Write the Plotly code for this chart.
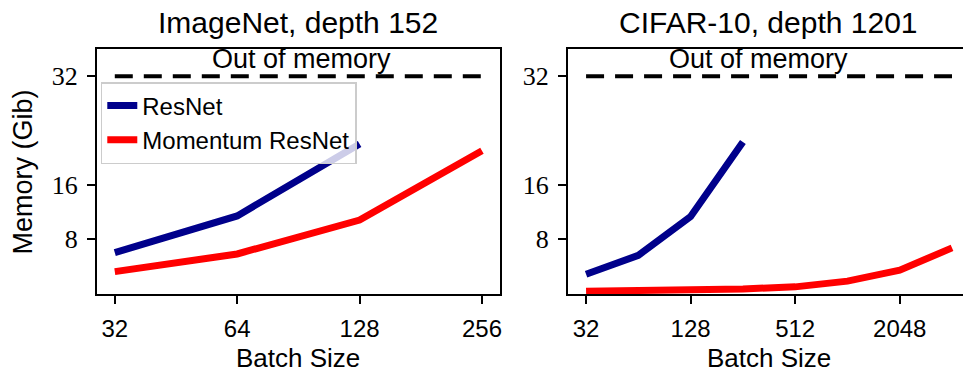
import math
import plotly.graph_objects as go

# ---- data ----
batch_imagenet = [32, 64, 128, 256]
resnet_imagenet_batch = [32, 64, 128]
resnet_imagenet_mem = [6.0, 11.4, 22.0]
momentum_imagenet_mem = [3.2, 5.8, 10.8, 21.0]

batch_cifar = [32, 64, 128, 256, 512, 1024, 2048, 4096]
resnet_cifar_batch = [32, 64, 128, 256]
resnet_cifar_mem = [2.8, 5.6, 11.3, 22.3]
momentum_cifar_mem = [0.3, 0.38, 0.46, 0.65, 0.95, 1.8, 3.4, 6.7]

oom_level = 32
y_ticks = [8, 16, 32]
x_ticks_left = [32, 64, 128, 256]
x_ticks_right = [32, 128, 512, 2048]

titles = ["ImageNet, depth 152", "CIFAR-10, depth 1201"]

BLUE = "#00008B"
RED = "#FF0000"
W, H = 965, 377
LW = 7

fig = go.Figure()

# left panel
fig.add_trace(go.Scatter(x=[batch_imagenet[0], batch_imagenet[-1]], y=[oom_level, oom_level],
                         mode="lines", line=dict(color="black", width=4, dash="18px,11px"),
                         showlegend=False, xaxis="x", yaxis="y"))
fig.add_trace(go.Scatter(x=resnet_imagenet_batch, y=resnet_imagenet_mem, mode="lines",
                         line=dict(color=BLUE, width=LW), name="ResNet", xaxis="x", yaxis="y"))
fig.add_trace(go.Scatter(x=batch_imagenet, y=momentum_imagenet_mem, mode="lines",
                         line=dict(color=RED, width=LW), name="Momentum ResNet", xaxis="x", yaxis="y"))

# right panel
fig.add_trace(go.Scatter(x=[batch_cifar[0], batch_cifar[-1]], y=[oom_level, oom_level],
                         mode="lines", line=dict(color="black", width=4, dash="18px,11px"),
                         showlegend=False, xaxis="x2", yaxis="y2"))
fig.add_trace(go.Scatter(x=resnet_cifar_batch, y=resnet_cifar_mem, mode="lines",
                         line=dict(color=BLUE, width=LW), showlegend=False, xaxis="x2", yaxis="y2"))
fig.add_trace(go.Scatter(x=batch_cifar, y=momentum_cifar_mem, mode="lines",
                         line=dict(color=RED, width=LW), showlegend=False, xaxis="x2", yaxis="y2"))

L2 = math.log10(2)
xfont = dict(family="Liberation Sans", size=24, color="black")
yfont = dict(family="Liberation Serif", size=26, color="black")

common_x = dict(type="log", showgrid=False, zeroline=False, showline=True, linecolor="black",
                linewidth=1.5, ticks="outside", ticklen=8, tickwidth=1.5, tickcolor="black",
                tickfont=xfont, ticklabelstandoff=4)
common_y = dict(range=[-0.1, 36], showgrid=False, zeroline=False, showline=True, linecolor="black",
                linewidth=1.5, ticks="outside", ticklen=8, tickwidth=1.5, tickcolor="black",
                tickfont=yfont, tickvals=y_ticks, ticktext=[str(v) for v in y_ticks],
                ticklabelstandoff=4)

ydom = [1 - 294 / H, 1 - 49 / H]
fig.update_layout(
    width=W, height=H, margin=dict(l=0, r=0, t=0, b=0),
    paper_bgcolor="white", plot_bgcolor="white",
    xaxis=dict(common_x, domain=[97 / W, 501 / W], range=[4.853 * L2, 8.147 * L2],
               tickvals=x_ticks_left, ticktext=[str(v) for v in x_ticks_left], mirror=True, anchor="y"),
    yaxis=dict(common_y, domain=ydom, mirror=True, anchor="x"),
    xaxis2=dict(common_x, domain=[569 / W, 1.0], range=[4.651 * L2, 12.21 * L2],
                tickvals=x_ticks_right, ticktext=[str(v) for v in x_ticks_right], mirror=True, anchor="y2"),
    yaxis2=dict(common_y, domain=ydom, mirror=False, anchor="x2"),
    legend=dict(x=101 / W, y=1 - 82 / H, xanchor="left", yanchor="top",
                font=dict(family="Liberation Sans", size=24, color="black"),
                bgcolor="rgba(255,255,255,0.8)", bordercolor="#cccccc", borderwidth=1.5,
                tracegroupgap=0),
    showlegend=True,
)

ann = []
tfont = dict(family="Liberation Sans", size=30, color="black")
ann.append(dict(text=titles[0], x=299 / W, y=1 - 23 / H, xref="paper", yref="paper",
                showarrow=False, font=tfont, xanchor="center", yanchor="middle"))
ann.append(dict(text=titles[1], x=770 / W, y=1 - 23 / H, xref="paper", yref="paper",
                showarrow=False, font=tfont, xanchor="center", yanchor="middle"))
lfont = dict(family="Liberation Sans", size=26, color="black")
ann.append(dict(text="Batch Size", x=299 / W, y=1 - 358 / H, xref="paper", yref="paper",
                showarrow=False, font=lfont, xanchor="center", yanchor="middle"))
ann.append(dict(text="Batch Size", x=771 / W, y=1 - 358 / H, xref="paper", yref="paper",
                showarrow=False, font=lfont, xanchor="center", yanchor="middle"))
ann.append(dict(text="Memory (Gib)", x=24 / W, y=1 - 171.5 / H, xref="paper", yref="paper",
                showarrow=False, font=dict(lfont, size=27), textangle=-90, xanchor="center", yanchor="middle"))
ofont = dict(family="Liberation Sans", size=27, color="black")
ann.append(dict(text="Out of memory", x=302 / W, y=oom_level, xref="paper", yref="y",
                showarrow=False, font=ofont, xanchor="center", yanchor="bottom", yshift=0))
ann.append(dict(text="Out of memory", x=760 / W, y=oom_level, xref="paper", yref="y2",
                showarrow=False, font=ofont, xanchor="center", yanchor="bottom", yshift=0))
fig.update_layout(annotations=ann)

fig.write_html("out.html")
